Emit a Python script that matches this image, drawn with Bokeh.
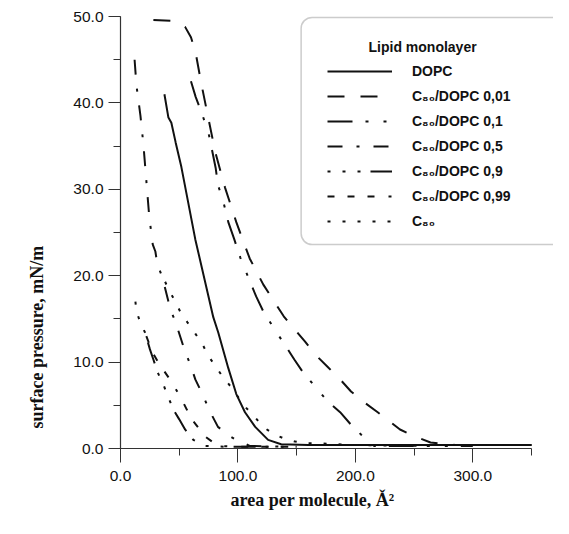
import numpy as np
from bokeh.plotting import figure
from bokeh.models import (Range1d, SingleIntervalTicker, PrintfTickFormatter, Legend,
                          LegendItem, Label, BoxAnnotation, Title)
from bokeh.embed import file_html
from bokeh.resources import INLINE

# ---------------- data ----------------
dopc_x = [37.4, 40.8, 43.3, 47.0, 51.8, 63.7, 79.0, 83.3, 91.8, 98.6, 106.0, 114.7, 125.7, 136.8, 160.0, 250.0, 350.0]
dopc_y = [41.0, 38.3, 37.7, 35.4, 32.6, 24.2, 15.2, 13.4, 9.3, 6.3, 4.2, 2.5, 1.0, 0.5, 0.4, 0.4, 0.4]

c001_x = [28.0, 43.0, 50.0, 55.0, 60.0, 64.0, 69.0, 75.0, 80.7, 89.0, 98.6, 110.0, 121.5, 130.0, 139.0, 147.0,
          157.0, 165.7, 176.7, 187.0, 196.3, 208.0, 219.0, 238.0, 250.6, 264.0, 285.0, 350.0]
c001_y = [49.6, 49.5, 49.3, 48.8, 47.6, 45.8, 42.1, 38.1, 34.3, 30.2, 26.2, 22.0, 19.0, 17.2, 15.3, 14.0,
          12.4, 10.9, 9.4, 8.0, 6.6, 5.3, 4.2, 2.2, 1.4, 0.7, 0.4, 0.4]

c01_x = [60.0, 64.0, 69.0, 75.0, 81.0, 83.0, 87.5, 91.8, 96.9, 102.0, 107.0, 115.5, 121.5, 132.5, 140.0, 148.0,
         155.5, 176.7, 187.0, 196.0, 205.0, 216.0, 250.0, 300.0]
c01_y = [42.5, 40.7, 38.9, 36.5, 32.5, 30.5, 28.6, 26.2, 24.2, 22.1, 20.4, 17.6, 15.9, 13.5, 12.0, 10.3,
         8.8, 5.4, 4.2, 2.8, 1.6, 0.3, 0.3, 0.3]

c05_x = [12.0, 13.6, 17.0, 19.5, 22.0, 24.5, 27.5, 29.7, 31.4, 35.7, 42.5, 46.7, 55.0, 59.5, 63.7, 69.0,
         76.5, 83.0, 93.5, 98.6, 110.0, 140.0]
c05_y = [45.0, 42.0, 38.5, 35.2, 31.0, 26.8, 23.6, 22.8, 21.3, 19.8, 16.1, 14.7, 11.2, 9.7, 8.0, 6.5,
         4.2, 2.5, 1.4, 1.0, 0.3, 0.2]

c09_x = [12.7, 13.6, 17.0, 21.0, 25.0, 28.0, 31.7, 36.5, 40.8, 45.0, 49.9, 55.0, 62.0, 72.0, 90.0, 150.0]
c09_y = [17.0, 15.9, 14.5, 13.4, 11.5, 10.3, 8.8, 7.4, 5.9, 4.5, 3.4, 2.2, 1.0, 0.3, 0.2, 0.2]

c099_x = [22.0, 27.0, 32.0, 36.5, 43.6, 52.0, 60.6, 72.0, 83.0, 100.0, 150.0]
c099_y = [13.0, 11.2, 10.0, 9.1, 7.7, 5.7, 3.4, 1.4, 0.3, 0.2, 0.2]

c80_x = [38.0, 41.0, 46.7, 51.0, 57.0, 63.7, 69.7, 74.8, 81.6, 87.5, 94.3, 100.5, 107.0, 114.7, 121.5, 130.0,
         138.5, 148.7, 158.0, 168.0, 200.0, 260.0]
c80_y = [19.3, 18.4, 17.0, 15.8, 14.6, 13.3, 12.1, 10.7, 9.4, 8.2, 7.1, 5.9, 4.7, 3.6, 2.5, 1.7,
         1.2, 0.8, 0.6, 0.6, 0.4, 0.3]

series_labels = ["DOPC", "C\u2088\u2080/DOPC 0,01", "C\u2088\u2080/DOPC 0,1", "C\u2088\u2080/DOPC 0,5",
                 "C\u2088\u2080/DOPC 0,9", "C\u2088\u2080/DOPC 0,99", "C\u2088\u2080"]

# ---------------- styles ----------------
dashes = ["solid", "17 16", "25 13 3 15 3 13", "15 14 3 14", "3 12 3 12 3 10 22 10",
          "7 13 7 13 7 14 3 14", "3 12"]
INK = "#111111"
AX = "#333333"

p = figure(width=553, height=518, output_backend="svg", toolbar_location=None,
           x_range=Range1d(0, 368.7), y_range=Range1d(0, 50.58),
           min_border_left=119, min_border_right=0, min_border_top=11, min_border_bottom=70)
p.outline_line_color = None
p.grid.visible = False
p.background_fill_color = "white"

# x axis
xa = p.xaxis[0]
xa.ticker = SingleIntervalTicker(interval=100, num_minor_ticks=2)
xa.formatter = PrintfTickFormatter(format="%.1f")
xa.bounds = (0, 350)
xa.axis_line_color = AX
xa.axis_line_width = 1.2
xa.major_tick_line_color = AX
xa.minor_tick_line_color = AX
xa.major_tick_in = 0
xa.major_tick_out = 14
xa.minor_tick_in = 0
xa.minor_tick_out = 7
xa.major_label_standoff = 8
xa.major_label_text_font = "Liberation Sans"
xa.major_label_text_font_size = "15.5px"
xa.major_label_text_color = INK

# y axis
ya = p.yaxis[0]
ya.ticker = SingleIntervalTicker(interval=10, num_minor_ticks=2)
ya.formatter = PrintfTickFormatter(format="%.1f")
ya.bounds = (0, 50)
ya.axis_line_color = AX
ya.axis_line_width = 1.2
ya.major_tick_line_color = AX
ya.minor_tick_line_color = AX
ya.major_tick_in = 0
ya.major_tick_out = 12
ya.minor_tick_in = 0
ya.minor_tick_out = 7
ya.major_label_standoff = 5
ya.major_label_text_font = "Liberation Sans"
ya.major_label_text_font_size = "15.5px"
ya.major_label_text_color = INK

# curves
xs_all = [dopc_x, c001_x, c01_x, c05_x, c09_x, c099_x, c80_x]
ys_all = [dopc_y, c001_y, c01_y, c05_y, c09_y, c099_y, c80_y]
renderers = []
for xs, ys, dash in zip(xs_all, ys_all, dashes):
    r = p.line(xs, ys, line_color=INK, line_width=2, line_dash=dash)
    renderers.append(r)

# legend frame (rounded box)
p.add_layout(BoxAnnotation(left=153.8, right=392, top=49.9, bottom=23.6, border_radius=11,
                           fill_color="white", fill_alpha=1.0, line_color="#555555", line_width=1.5,
                           level="underlay"))

legend = Legend(items=[LegendItem(label=lab, renderers=[r]) for lab, r in zip(series_labels, renderers)],
                location=(207, 217), orientation="vertical",
                glyph_width=65, glyph_height=20, label_height=20, label_width=100,
                label_standoff=20, spacing=5, padding=0, margin=0,
                border_line_alpha=0, background_fill_alpha=0,
                label_text_font="Liberation Sans", label_text_font_style="bold",
                label_text_font_size="14px", label_text_color=INK)
p.add_layout(legend)

p.add_layout(Label(x=248, y=402, x_units="screen", y_units="screen", text="Lipid monolayer",
                   text_font="Liberation Sans", text_font_style="bold", text_font_size="14px",
                   text_baseline="middle", text_color=INK))

# axis titles
p.add_layout(Title(text="surface pressure, mN/m", align="left", offset=20, standoff=48,
                   text_font="Liberation Serif", text_font_style="bold", text_font_size="18px",
                   text_color=INK), "left")
p.add_layout(Title(text="area per molecule, \u01cd\u00b2", align="left", offset=110, standoff=8,
                   text_font="Liberation Serif", text_font_style="bold", text_font_size="18px",
                   text_color=INK), "below")

open("out.html", "w").write(file_html(p, INLINE))
